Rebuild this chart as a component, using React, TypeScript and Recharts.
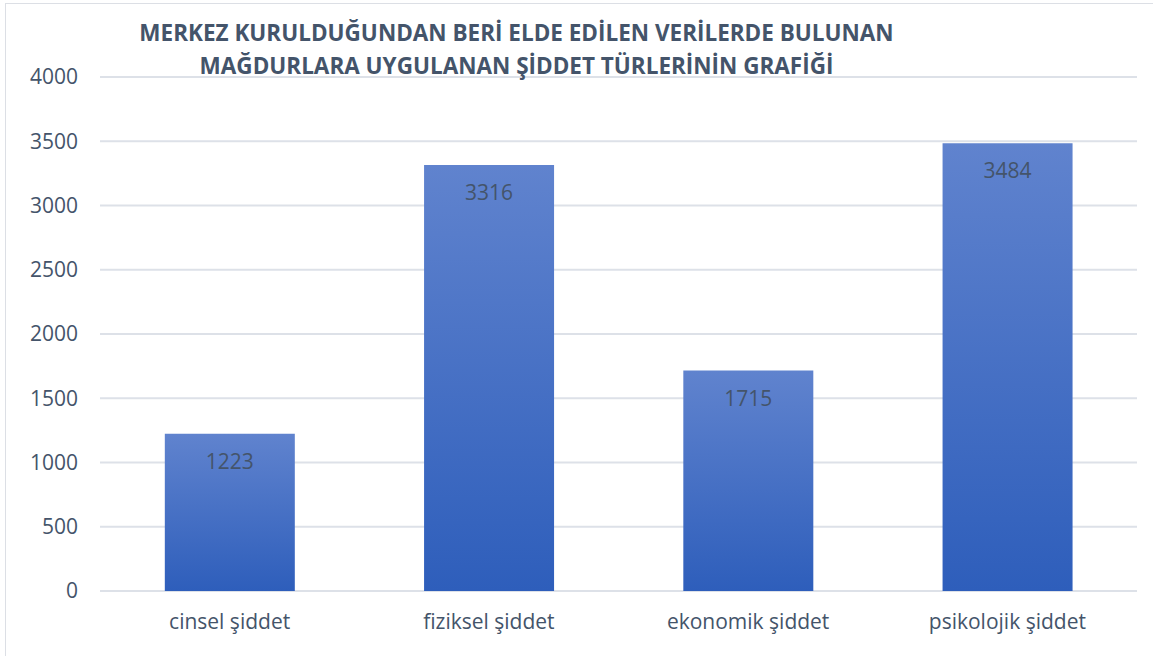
import React from 'react';
import {
  Bar,
  BarChart,
  CartesianGrid,
  LabelList,
  XAxis,
  YAxis,
} from 'recharts';

const categories = [
  'cinsel şiddet',
  'fiziksel şiddet',
  'ekonomik şiddet',
  'psikolojik şiddet',
];
const counts = [1223, 3316, 1715, 3484];
const yTicks = [0, 500, 1000, 1500, 2000, 2500, 3000, 3500, 4000];
const titleLines = [
  'MERKEZ KURULDUĞUNDAN BERİ ELDE EDİLEN VERİLERDE BULUNAN',
  'MAĞDURLARA UYGULANAN ŞİDDET TÜRLERİNİN GRAFİĞİ',
];

const TEXT = '#44546a';
const FONT = '"Open Sans", sans-serif';

const data = categories.map((name, i) => ({ name, value: counts[i] }));

export default function App() {
  return (
    <div
      style={{
        position: 'absolute',
        left: 0,
        top: 0,
        width: 1153,
        height: 656,
        background: '#fff',
        fontFamily: FONT,
        overflow: 'hidden',
      }}
    >
      <div
        style={{
          position: 'absolute',
          left: 5,
          top: 3,
          width: 1160,
          height: 670,
          border: '1px solid #dcdfe5',
        }}
      />
      <BarChart
        width={1153}
        height={656}
        data={data}
        margin={{ top: 77, right: 16, left: 0, bottom: 0 }}
        barCategoryGap="25%"
      >
        <defs>
          <linearGradient id="barFill" x1="0" y1="0" x2="0" y2="1">
            <stop offset="0%" stopColor="#6083ce" />
            <stop offset="100%" stopColor="#2e5ebb" />
          </linearGradient>
        </defs>
        <CartesianGrid
          vertical={false}
          stroke="#dde1e8"
          strokeWidth={2}
        />
        <XAxis
          dataKey="name"
          axisLine={false}
          tickLine={false}
          height={65}
          tick={{ fill: TEXT, fontSize: 21, fontFamily: FONT }}
          tickMargin={17}
        />
        <YAxis
          width={100}
          domain={[0, 4000]}
          ticks={yTicks}
          axisLine={false}
          tickLine={false}
          tick={{ fill: TEXT, fontSize: 21, fontFamily: FONT }}
          tickMargin={16}
        />
        <Bar dataKey="value" fill="url(#barFill)" isAnimationActive={false}>
          <LabelList
            dataKey="value"
            position="insideTop"
            offset={20}
            fill={TEXT}
            fontSize={21}
            fontFamily={FONT}
          />
        </Bar>
      </BarChart>
      {titleLines.map((line, i) => (
        <div
          key={i}
          style={{
            position: 'absolute',
            left: 0,
            width: 1033,
            top: 18 + i * 33,
            textAlign: 'center',
            fontWeight: 700,
            fontSize: 22.5,
            lineHeight: '30px',
            color: TEXT,
            whiteSpace: 'nowrap',
          }}
        >
          {line}
        </div>
      ))}
    </div>
  );
}
